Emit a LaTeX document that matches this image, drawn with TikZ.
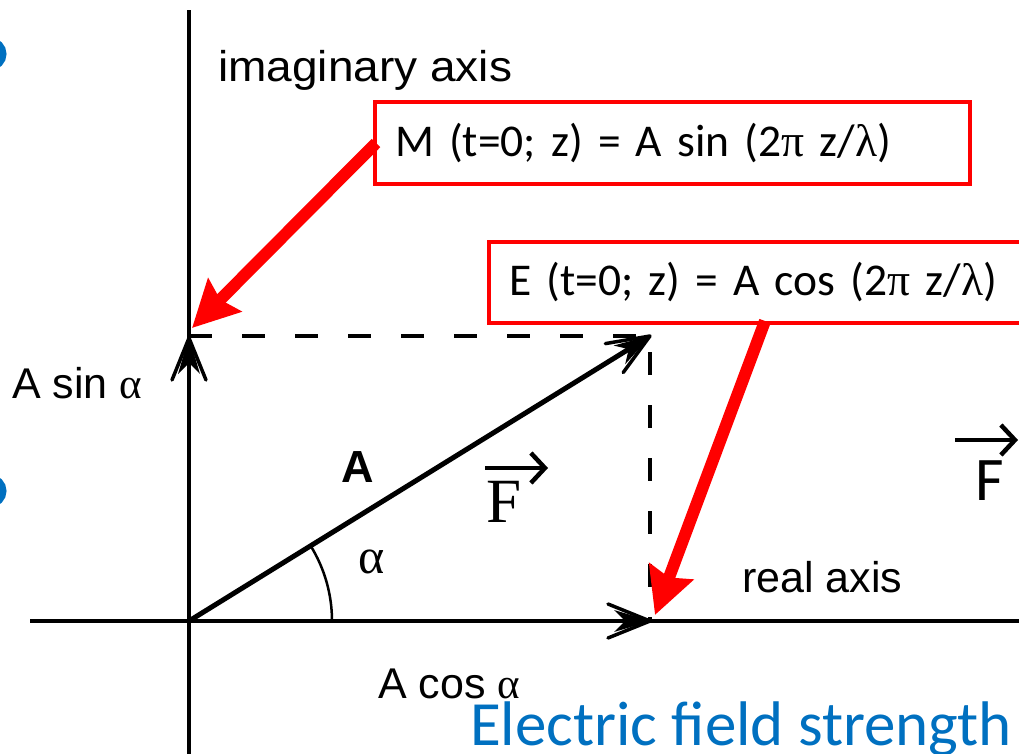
\documentclass[tikz,border=0pt]{standalone}
\usepackage{fontspec}
\setmainfont{Liberation Sans}
\newfontfamily\calfont{Carlito}
\newfontfamily\serfont{Liberation Serif}
\usetikzlibrary{arrows.meta}
\definecolor{pptblue}{RGB}{0,112,192}
\definecolor{pptred}{RGB}{255,0,0}
\tikzset{
  axisline/.style={line width=4pt, black},
  vecline/.style={line width=5pt, black},
  dashline/.style={line width=4pt, black, dash pattern=on 23pt off 30pt},
  helv/.style={font=\fontsize{43}{43}\selectfont, inner sep=0pt},
  redbox/.style={draw=pptred, line width=4pt, fill=white, inner ysep=0pt,
    font=\calfont\fontsize{45.5}{50}\selectfont, align=left},
  redarrow/.style={draw=pptred, line width=12pt,
    -{Stealth[length=46pt,width=46pt,inset=6pt,fill=pptred]}},
  fvec/.style={line width=4.5pt, -{Straight Barb[length=14pt,width=30pt,line width=4.5pt]}},
  bhead/.pic={
    \draw[line width=3.5pt, line join=round, line cap=round] (-42,17) -- (0,0) -- (-42,-17);
    \fill (1,0) -- (-36,11) -- (-25,0) -- (-36,-11) -- cycle;
  },
}
\begin{document}
\begin{tikzpicture}[x=1pt,y=-1pt]
\useasboundingbox (0,0) rectangle (1019,754);
\clip (0,0) rectangle (1019,754);

% cut-off blue glyph parts at the left edge
\draw[pptblue, line width=7pt] (-10,54) circle[radius=13];
\draw[pptblue, line width=7pt] (-10,491) circle[radius=13];

% axes and points
\coordinate (O) at (189,621);
\coordinate (P) at (650,336);
\coordinate (Py) at (189,338);
\coordinate (Px) at (650,621);
\coordinate (ytop) at (189,10);
\coordinate (ybot) at (189,760);
\coordinate (xleft) at (30,621);
\coordinate (xright) at (1025,621);

\draw[axisline] (ybot) -- (ytop);
\draw[axisline] (xleft) -- (xright);
\draw[dashline] (189,336) -- (P) -- (Px);
\draw[vecline, shorten >=12pt] (O) -- (P);
\pic[rotate=90] at (Py) {bhead};
\pic at (Px) {bhead};
\pic[rotate=31.7] at (P) {bhead};
\draw[line width=2.5pt] (O) ++(143,0) arc[start angle=0, end angle=-31.7, radius=143];

% labels
\node[helv, anchor=base west, xscale=1.07] (imag) at (218,82) {imaginary axis};
\node[helv, anchor=base west] (asin) at (12,398) {A sin {\serfont α}};
\node[helv, anchor=base west] (acos) at (378,698) {A cos {\serfont α}};
\node[helv, anchor=base west] (real) at (742,592) {real axis};
\node[helv, anchor=base, font=\bfseries\fontsize{45}{45}\selectfont] (Alab) at (358,482) {A};
\node[inner sep=0pt, anchor=base, font=\serfont\fontsize{50}{50}\selectfont] (alpha) at (372,573) {α};

% F vectors
\node[inner sep=0pt, anchor=base, font=\serfont\fontsize{63}{63}\selectfont] (F1) at (504,522) {F};
\coordinate (f1a) at (485,468);
\coordinate (f1b) at (548,468);
\draw[fvec] (f1a) -- (f1b);
\node[inner sep=0pt, anchor=base, font=\calfont\fontsize{62}{62}\selectfont] (F2) at (990,500) {F};
\coordinate (f2a) at (955,440);
\coordinate (f2b) at (1018,440);
\draw[fvec] (f2a) -- (f2b);

% red boxes
\node[redbox, anchor=north west, minimum height=82pt, text width=555pt, inner xsep=20pt] (mbox) at (373,100)
  {M (t=0; z) = A sin (2{\serfont π} z/{\serfont λ})};
\node[redbox, anchor=north west, minimum height=81pt, text width=540pt, inner xsep=20pt] (ebox) at (487,240)
  {E (t=0; z) = A cos (2{\serfont π} z/{\serfont λ})};

% red arrows
\coordinate (mtip) at (192,328);
\coordinate (estart) at (765,321);
\coordinate (etip) at (655,615);
\draw[redarrow] ([xshift=3pt]mbox.west) -- (mtip);
\draw[redarrow] (estart) -- (etip);

% bottom blue text
\node[inner sep=0pt, anchor=base west, text=pptblue, font=\calfont\fontsize{63}{63}\selectfont] (eft) at (470,745) {Electric field strength};
\end{tikzpicture}
\end{document}
